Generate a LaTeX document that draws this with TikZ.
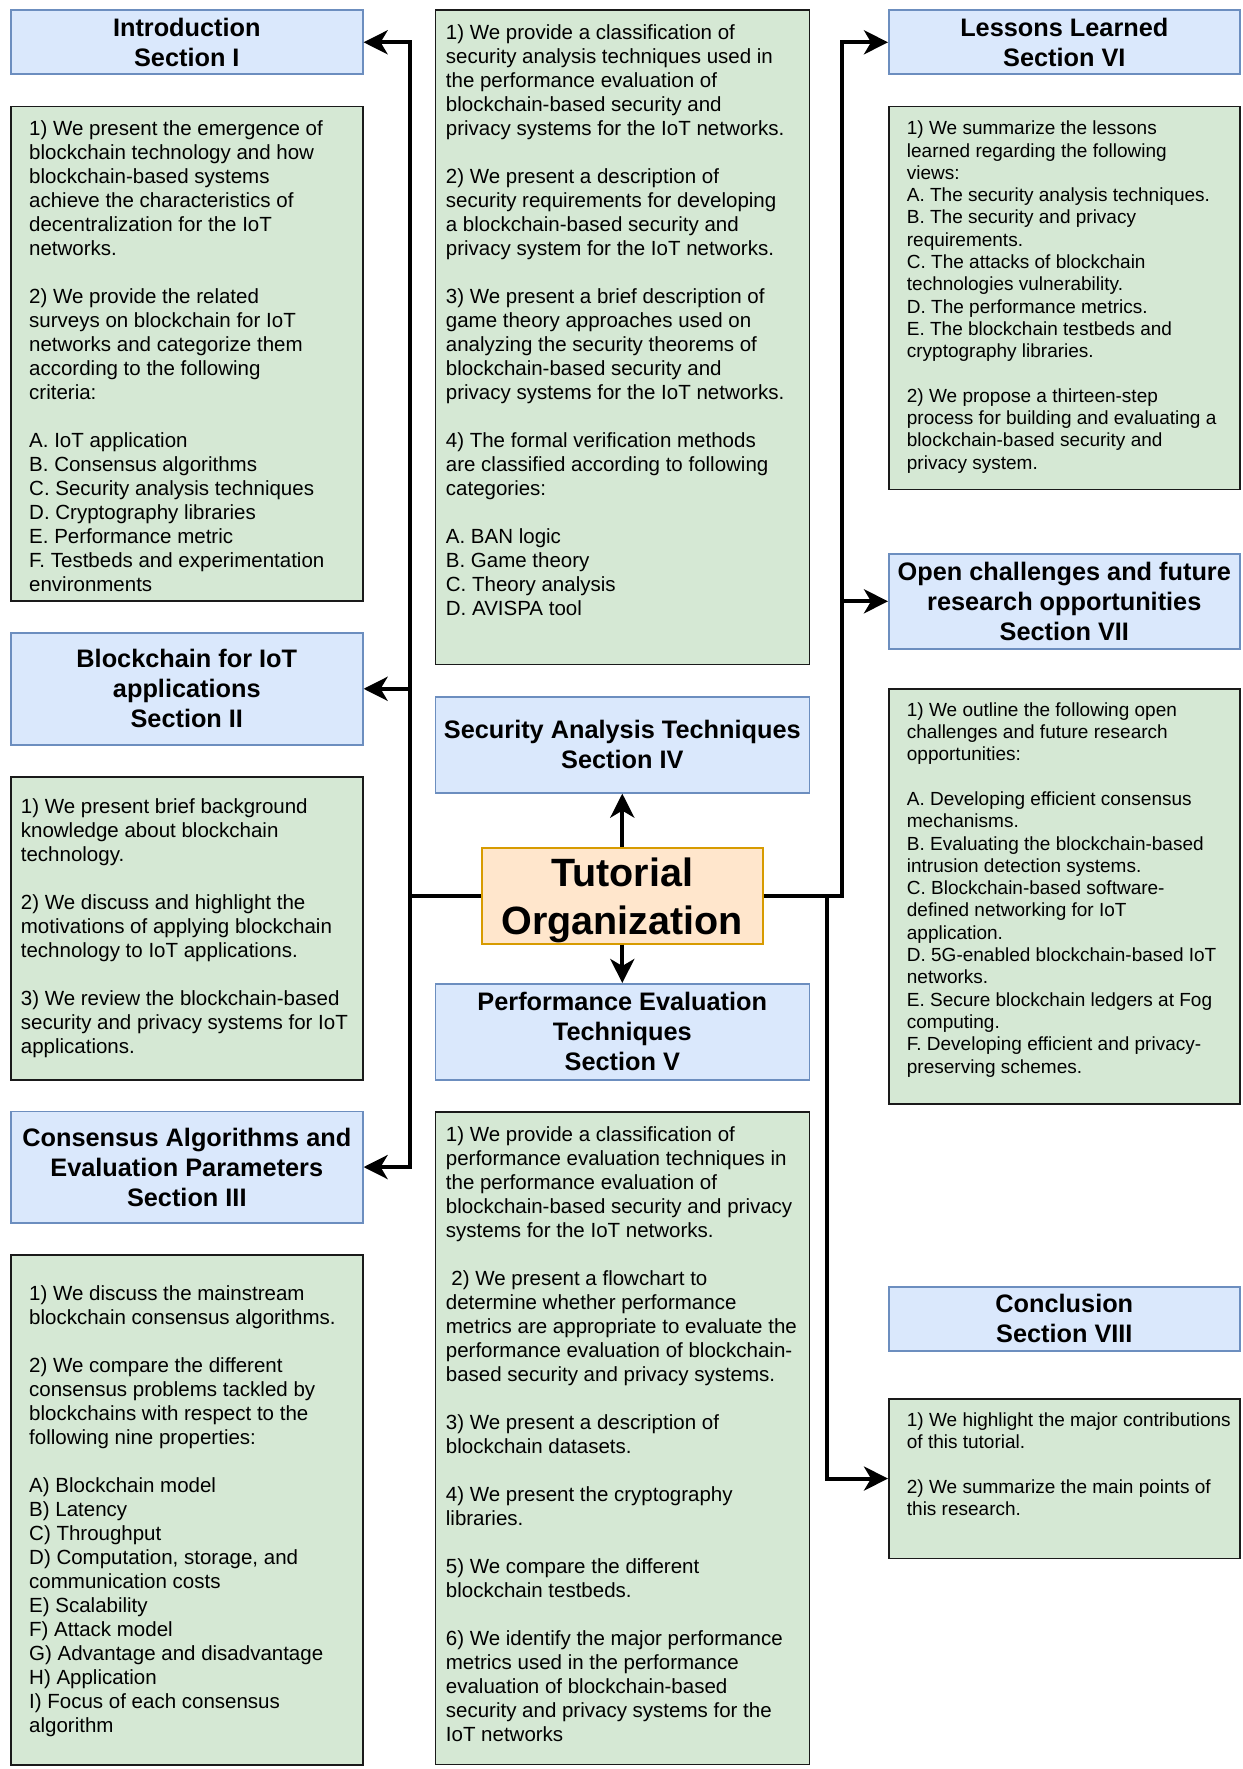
\documentclass[tikz,border=0pt]{standalone}
\usepackage{fontspec}
\newfontfamily\hv{Liberation Sans}
\usetikzlibrary{arrows.meta,calc}
\definecolor{bfill}{HTML}{DAE8FC}
\definecolor{bdraw}{HTML}{6C8EBF}
\definecolor{gfill}{HTML}{D5E8D4}
\definecolor{gdraw}{HTML}{1A1A1A}
\definecolor{ofill}{HTML}{FFE6CC}
\definecolor{odraw}{HTML}{D79B00}
\begin{document}
\begin{tikzpicture}[x=1pt,y=-1pt,
  box/.style={rectangle, inner sep=0pt, anchor=north west, line width=1.6pt},
  bbox/.style={box, fill=bfill, draw=bdraw, align=center, font=\hv\bfseries\fontsize{25.3}{30}\selectfont},
  obox/.style={box, fill=ofill, draw=odraw},
  otext/.style={inner sep=0pt, align=center, font=\hv\bfseries\fontsize{39.5}{48}\selectfont},
  gbox/.style={box, fill=gfill, draw=gdraw},
  gtext/.style={anchor=north west, inner sep=0pt, align=left, font=\hv\fontsize{20.5}{24}\selectfont},
  gtextr/.style={anchor=north west, inner sep=0pt, align=left, font=\hv\fontsize{19}{22.3}\selectfont},
  conn/.style={line width=4pt, line join=miter, draw=black},
  arr/.style={conn, -{Stealth[length=24pt,width=24pt,inset=7pt]}},
]
\useasboundingbox[fill=white] (0,0) rectangle (1242,1769);

% ---------- left column ----------
\node[bbox, minimum width=352pt, minimum height=64pt] (intro) at (10,9.5) {Introduction\\Section I};
\node[gbox, minimum width=352pt, minimum height=494.5pt] (g1) at (10,105.5) {};
\node[gtext] (t1) at (29,118.2) {\strut 1) We present the emergence of\\
blockchain technology and how\\
blockchain-based systems\\
achieve the characteristics of\\
decentralization for the IoT\\
networks.\\[24pt]
2) We provide the related\\
surveys on blockchain for IoT\\
networks and categorize them\\
according to the following\\
criteria:\\[24pt]
A. IoT application\\
B. Consensus algorithms\\
C. Security analysis techniques\\
D. Cryptography libraries\\
E. Performance metric\\
F. Testbeds and experimentation\\
environments};

\node[bbox, minimum width=352pt, minimum height=112pt] (bc) at (10,632) {Blockchain for IoT\\applications\\Section II};
\node[gbox, minimum width=352pt, minimum height=303pt] (g2) at (10,776) {};
\node[gtext] (t2) at (20.7,796.7) {\strut 1) We present brief background\\
knowledge about blockchain\\
technology.\\[24pt]
2) We discuss and highlight the\\
motivations of applying blockchain\\
technology to IoT applications.\\[24pt]
3) We review the blockchain-based\\
security and privacy systems for IoT\\
applications.};

\node[bbox, minimum width=352pt, minimum height=111.5pt] (cons) at (10,1110.5) {Consensus Algorithms and\\Evaluation Parameters\\Section III};
\node[gbox, minimum width=352pt, minimum height=510pt] (g3) at (10,1254) {};
\node[gtext] (t3) at (29,1283.7) {\strut 1) We discuss the mainstream\\
blockchain consensus algorithms.\\[24pt]
2) We compare the different\\
consensus problems tackled by\\
blockchains with respect to the\\
following nine properties:\\[24pt]
A) Blockchain model\\
B) Latency\\
C) Throughput\\
D) Computation, storage, and\\
communication costs\\
E) Scalability\\
F) Attack model\\
G) Advantage and disadvantage\\
H) Application\\
I) Focus of each consensus\\
algorithm};

% ---------- centre column ----------
\node[gbox, minimum width=374pt, minimum height=654pt] (g4) at (434.5,9.5) {};
\node[gtext] (t4) at (445.7,22.5) {\strut 1) We provide a classification of\\
security analysis techniques used in\\
the performance evaluation of\\
blockchain-based security and\\
privacy systems for the IoT networks.\\[24pt]
2) We present a description of\\
security requirements for developing\\
a blockchain-based security and\\
privacy system for the IoT networks.\\[24pt]
3) We present a brief description of\\
game theory approaches used on\\
analyzing the security theorems of\\
blockchain-based security and\\
privacy systems for the IoT networks.\\[24pt]
4) The formal verification methods\\
are classified according to following\\
categories:\\[24pt]
A. BAN logic\\
B. Game theory\\
C. Theory analysis\\
D. AVISPA tool};

\node[bbox, minimum width=374pt, minimum height=96pt] (sec4) at (434.5,696) {Security Analysis Techniques\\Section IV};
\node[obox, minimum width=281pt, minimum height=96pt] (tut) at (481,847) {};
\node[otext] (tutt) at ($(tut.center)+(0,4.5)$) {Tutorial\\Organization};
\node[bbox, minimum width=374pt, minimum height=96pt] (sec5) at (434.5,983) {Performance Evaluation\\Techniques\\Section V};

\node[gbox, minimum width=374pt, minimum height=652.5pt] (g5) at (434.5,1111) {};
\node[gtext] (t5) at (445.7,1124.5) {\strut 1) We provide a classification of\\
performance evaluation techniques in\\
the performance evaluation of\\
blockchain-based security and privacy\\
systems for the IoT networks.\\[24pt]
\hspace*{5.5pt}2) We present a flowchart to\\
determine whether performance\\
metrics are appropriate to evaluate the\\
performance evaluation of blockchain-\\
based security and privacy systems.\\[24pt]
3) We present a description of\\
blockchain datasets.\\[24pt]
4) We present the cryptography\\
libraries.\\[24pt]
5) We compare the different\\
blockchain testbeds.\\[24pt]
6) We identify the major performance\\
metrics used in the performance\\
evaluation of blockchain-based\\
security and privacy systems for the\\
IoT networks};

% ---------- right column ----------
\node[bbox, minimum width=351pt, minimum height=64pt] (less) at (888,9.5) {Lessons Learned\\Section VI};
\node[gbox, minimum width=351pt, minimum height=383pt] (g6) at (888,105.5) {};
\node[gtextr] (t6) at (906.7,118.9) {\strut 1) We summarize the lessons\\
learned regarding the following\\
views:\\
A. The security analysis techniques.\\
B. The security and privacy\\
requirements.\\
C. The attacks of blockchain\\
technologies vulnerability.\\
D. The performance metrics.\\
E. The blockchain testbeds and\\
cryptography libraries.\\[22.3pt]
2) We propose a thirteen-step\\
process for building and evaluating a\\
blockchain-based security and\\
privacy system.};

\node[bbox, minimum width=351pt, minimum height=95pt] (open) at (888,553) {Open challenges and future\\research opportunities\\Section VII};
\node[gbox, minimum width=351pt, minimum height=415pt] (g7) at (888,688) {};
\node[gtextr] (t7) at (906.7,700.4) {\strut 1) We outline the following open\\
challenges and future research\\
opportunities:\\[22.3pt]
A. Developing efficient consensus\\
mechanisms.\\
B. Evaluating the blockchain-based\\
intrusion detection systems.\\
C. Blockchain-based software-\\
defined networking for IoT\\
application.\\
D. 5G-enabled blockchain-based IoT\\
networks.\\
E. Secure blockchain ledgers at Fog\\
computing.\\
F. Developing efficient and privacy-\\
preserving schemes.};

\node[bbox, minimum width=351pt, minimum height=64pt] (concl) at (888,1286) {Conclusion\\Section VIII};
\node[gbox, minimum width=351pt, minimum height=159.5pt] (g8) at (888,1398) {};
\node[gtextr] (t8) at (906.7,1410.4) {\strut 1) We highlight the major contributions\\
of this tutorial.\\[22.3pt]
2) We summarize the main points of\\
this research.};

% ---------- connectors ----------
\coordinate (L) at ($(tut.west)+(-71,0)$);
\coordinate (R) at ($(tut.east)+(78,0)$);
\coordinate (R2) at ($(tut.east)+(63,0)$);
\draw[arr] (tut.west) -- (L) |- (intro.east);
\draw[arr] (L) |- (bc.east);
\draw[arr] (L) |- (cons.east);
\draw[arr] (tut.east) -- (R) |- (less.west);
\draw[arr] (R) |- (open.west);
\draw[arr] (R2) |- (g8.west);
\draw[arr] (tut.north) -- (sec4.south);
\draw[arr] (tut.south) -- (sec5.north);
\end{tikzpicture}
\end{document}
